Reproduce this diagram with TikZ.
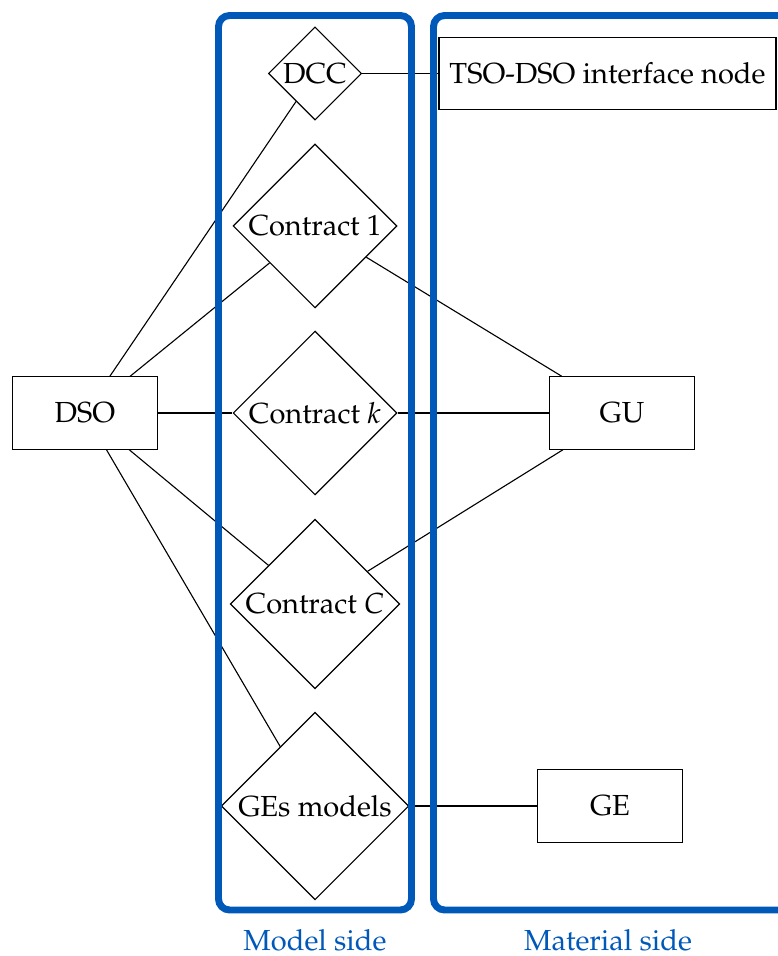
\documentclass[tikz,border=0pt]{standalone}
\usepackage[T1]{fontenc}
\usepackage{mathpazo}
\usetikzlibrary{shapes.geometric}
\definecolor{sideblue}{RGB}{0,88,185}

\begin{document}
\begin{tikzpicture}[x=0.36pt, y=-0.36pt,
  every node/.style={font=\fontsize{10.45}{12.5}\selectfont},
  actor/.style={draw, rectangle, minimum width=52pt, minimum height=26pt, inner sep=0pt},
  contract/.style={draw, diamond, aspect=1, inner sep=0pt},
  link/.style={line width=0.4pt},
  side/.style={draw=sideblue, line width=2.5pt, rounded corners=4pt},
  sidelabel/.style={text=sideblue, inner sep=1pt}]
\useasboundingbox (0,0) rectangle (778,956);
%%% agents and contracts %%%

      \node[actor] (dso) at (85,413) {DSO};
      %%
      \node[contract, minimum width=33.5pt, minimum height=33.5pt] (dcc) at (315,73.5) {DCC};
      \node[contract, minimum width=59pt, minimum height=59pt] (c1) at (315,226) {Contract 1};
      \node[contract, minimum width=59pt, minimum height=59pt] (ck) at (315,413) {Contract $k$};
      \node[contract, minimum width=61pt, minimum height=61pt] (cC) at (315,604) {Contract $C$};
      \node[contract, minimum width=67.5pt, minimum height=67.5pt] (gem) at (315,806) {GEs models};
      %%
      \node[actor, minimum width=121.3pt] (tso) at (607.5,73.5) {TSO-DSO interface node};
      \node[actor] (gu) at (622,413) {GU};
      \node[actor] (ge) at (610,806) {GE};

%%% links %%%
      \foreach \c in {dcc,c1,ck,cC,gem}
        \draw[link] (dso) -- (\c);
      \draw[link] (dcc) -- (tso);
      \foreach \c in {c1,ck,cC}
        \draw[link] (\c) -- (gu);
      \draw[link] (gem) -- (ge);

%%% sides %%%
      \draw[side] (218.5,15.5) rectangle (411.5,910);
      \draw[side] (433.5,15.5) rectangle (800,910);
      \node[sidelabel] (model) at (315,940) {Model side};
      \node[sidelabel] (material) at (608,940) {Material side};

\end{tikzpicture}
\end{document}
